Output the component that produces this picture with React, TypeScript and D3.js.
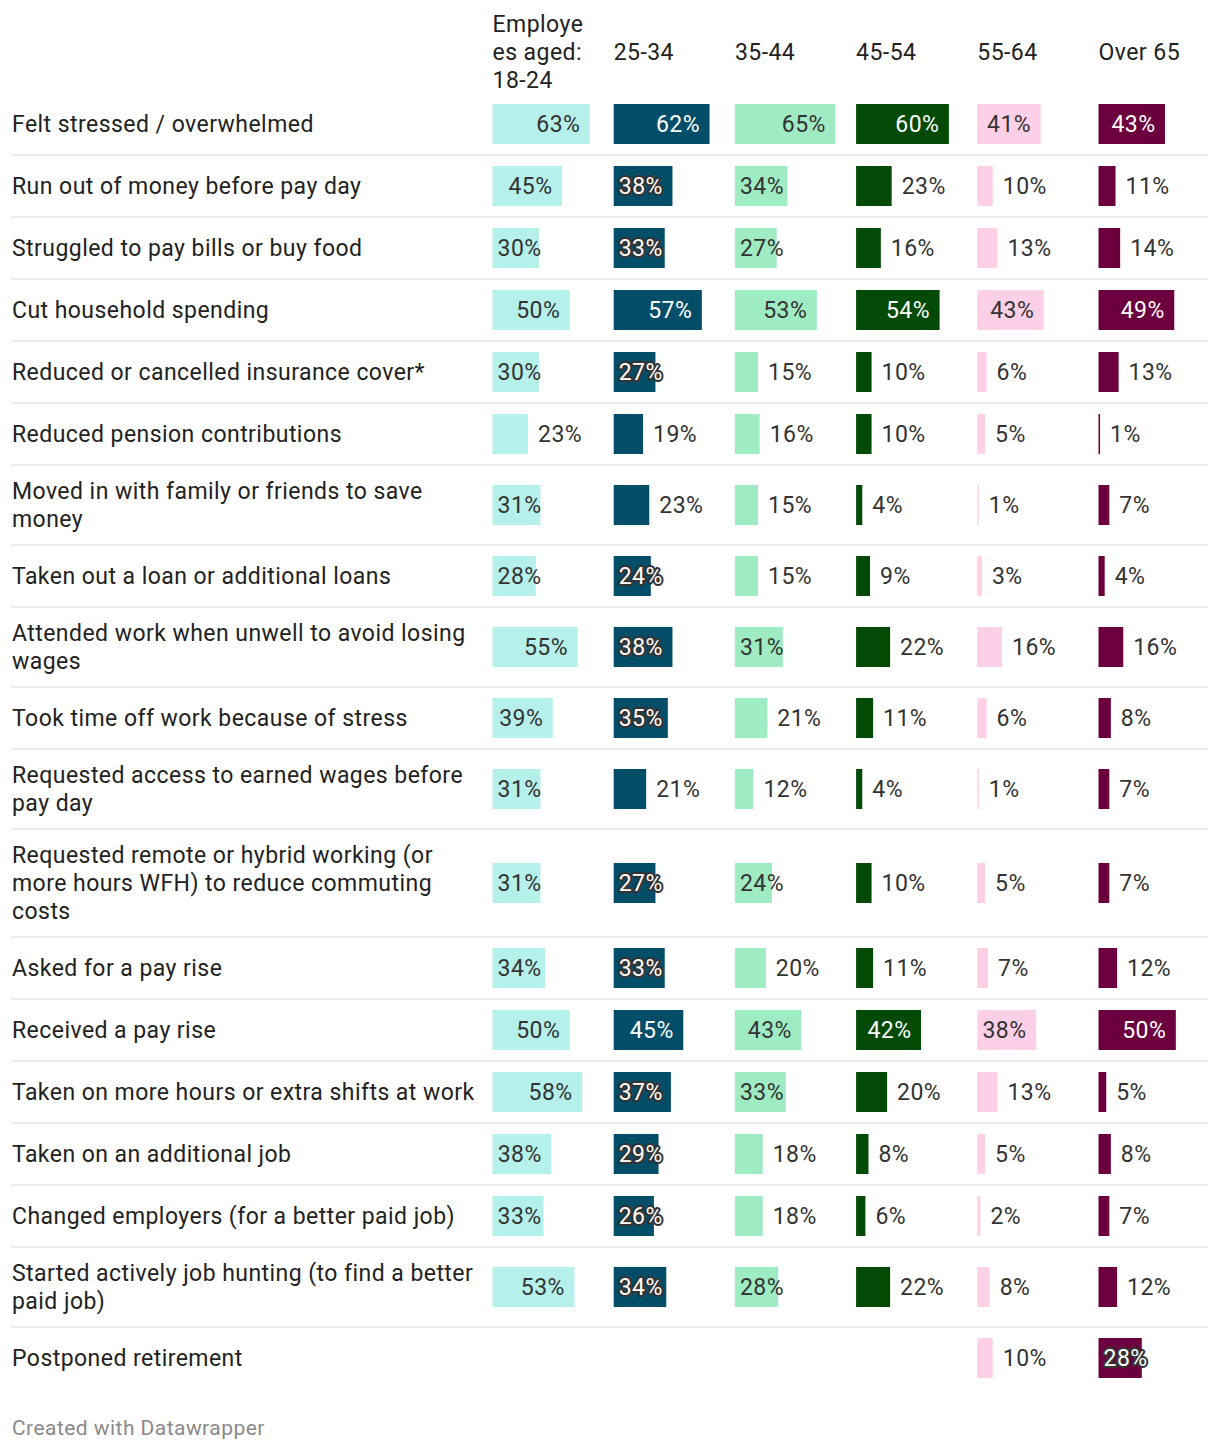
import React from 'react';
import * as d3 from 'd3';

// ---------- data ----------
const columnHeaders: string[][] = [
  ['Employe', 'es aged:', '18-24'],
  ['25-34'],
  ['35-44'],
  ['45-54'],
  ['55-64'],
  ['Over 65'],
];

const categories: string[] = [
  'Felt stressed / overwhelmed',
  'Run out of money before pay day',
  'Struggled to pay bills or buy food',
  'Cut household spending',
  'Reduced or cancelled insurance cover*',
  'Reduced pension contributions',
  'Moved in with family or friends to save\nmoney',
  'Taken out a loan or additional loans',
  'Attended work when unwell to avoid losing\nwages',
  'Took time off work because of stress',
  'Requested access to earned wages before\npay day',
  'Requested remote or hybrid working (or\nmore hours WFH) to reduce commuting\ncosts',
  'Asked for a pay rise',
  'Received a pay rise',
  'Taken on more hours or extra shifts at work',
  'Taken on an additional job',
  'Changed employers (for a better paid job)',
  'Started actively job hunting (to find a better\npaid job)',
  'Postponed retirement',
];

const aged18to24: (number | null)[] = [63, 45, 30, 50, 30, 23, 31, 28, 55, 39, 31, 31, 34, 50, 58, 38, 33, 53, null];
const aged25to34: (number | null)[] = [62, 38, 33, 57, 27, 19, 23, 24, 38, 35, 21, 27, 33, 45, 37, 29, 26, 34, null];
const aged35to44: (number | null)[] = [65, 34, 27, 53, 15, 16, 15, 15, 31, 21, 12, 24, 20, 43, 33, 18, 18, 28, null];
const aged45to54: (number | null)[] = [60, 23, 16, 54, 10, 10, 4, 9, 22, 11, 4, 10, 11, 42, 20, 8, 6, 22, null];
const aged55to64: (number | null)[] = [41, 10, 13, 43, 6, 5, 1, 3, 16, 6, 1, 5, 7, 38, 13, 5, 2, 8, 10];
const agedOver65: (number | null)[] = [43, 11, 14, 49, 13, 1, 7, 4, 16, 8, 7, 7, 12, 50, 5, 8, 7, 12, 28];

const series = [aged18to24, aged25to34, aged35to44, aged45to54, aged55to64, agedOver65];

const footer = 'Created with Datawrapper';

// ---------- style ----------
const barColors = ['#b5f0ea', '#024d68', '#9eebc4', '#024a05', '#fdd0e7', '#6c003f'];
const darkBar = [false, true, false, true, false, true];
const FONT = 'Roboto, "Noto Sans", sans-serif';
const FS = 23;
const LS = 0.45;
const LINE = 28;

let ctx: CanvasRenderingContext2D | null = null;
function textWidth(s: string): number {
  if (!ctx) {
    const c = document.createElement('canvas');
    ctx = c.getContext('2d');
  }
  if (!ctx) return s.length * (FS * 0.56 + LS);
  ctx.font = `${FS}px Roboto`;
  return ctx.measureText(s).width + LS * (s.length - 1);
}

export default function App() {
  const W = 1220;
  const H = 1454;
  const left = 12;
  const right = 1208;
  const colX = d3.range(columnHeaders.length).map((i) => 492.5 + i * 121.2);
  const x = d3.scaleLinear().domain([0, 65]).range([0, 100.5]);

  // rows
  const lines = categories.map((c) => c.split('\n'));
  const heights = lines.map((l) => Math.max(62, l.length * LINE + 24));
  const tops: number[] = [];
  let y = 93;
  heights.forEach((h) => {
    tops.push(y);
    y += h;
  });

  const barH = 40;

  return (
    <svg
      width={W}
      height={H}
      style={{ position: 'absolute', left: 0, top: 0, background: '#fff', fontFamily: FONT, letterSpacing: `${LS}px` }}
    >
      <rect x={0} y={0} width={W} height={H} fill="#fff" />
      {/* header */}
      {columnHeaders.map((hl, i) => (
        <text key={'h' + i} x={colX[i]} fontSize={FS} fill="#222">
          {hl.map((t, j) => (
            <tspan key={j} x={colX[i]} y={52 + (j - (hl.length - 1) / 2) * LINE} dominantBaseline="central">
              {t}
            </tspan>
          ))}
        </text>
      ))}
      {/* rows */}
      {categories.map((c, r) => {
        const top = tops[r];
        const h = heights[r];
        const cy = top + h / 2;
        const ls = lines[r];
        return (
          <g key={'r' + r}>
            {r > 0 && (
              <line
                x1={left}
                x2={right}
                y1={top}
                y2={top}
                stroke="#cfcfcf"
                strokeWidth={1.6}
                strokeDasharray="1.6 1.6"
              />
            )}
            <text fontSize={FS} fill="#222">
              {ls.map((t, j) => (
                <tspan key={j} x={left} y={cy + (j - (ls.length - 1) / 2) * LINE} dominantBaseline="central">
                  {t}
                </tspan>
              ))}
            </text>
            {series.map((s, ci) => {
              const v = s[r];
              if (v == null) return null;
              const bx = colX[ci];
              const bw = x(v);
              const label = `${v}%`;
              const tw = textWidth(label);
              const inside = bw >= 37;
              let tx: number;
              let fill = '#333';
              let halo = false;
              if (inside) {
                tx = Math.max(bx + bw - 10 - tw, bx + 5);
                if (darkBar[ci]) {
                  fill = '#fff';
                  halo = bw < tw + 20;
                }
              } else {
                tx = bx + bw + 10;
              }
              return (
                <g key={'b' + ci}>
                  <rect x={bx} y={cy - barH / 2} width={bw} height={barH} fill={barColors[ci]} />
                  <text
                    x={tx}
                    y={cy}
                    fontSize={FS}
                    dominantBaseline="central"
                    fill={fill}
                    stroke={halo ? '#333' : 'none'}
                    strokeWidth={halo ? 4 : 0}
                    strokeLinejoin="round"
                    paintOrder="stroke"
                  >
                    {label}
                  </text>
                </g>
              );
            })}
          </g>
        );
      })}
      <text x={left} y={1428} fontSize={21} fill="#8a8a8a" dominantBaseline="central">
        {footer}
      </text>
    </svg>
  );
}
